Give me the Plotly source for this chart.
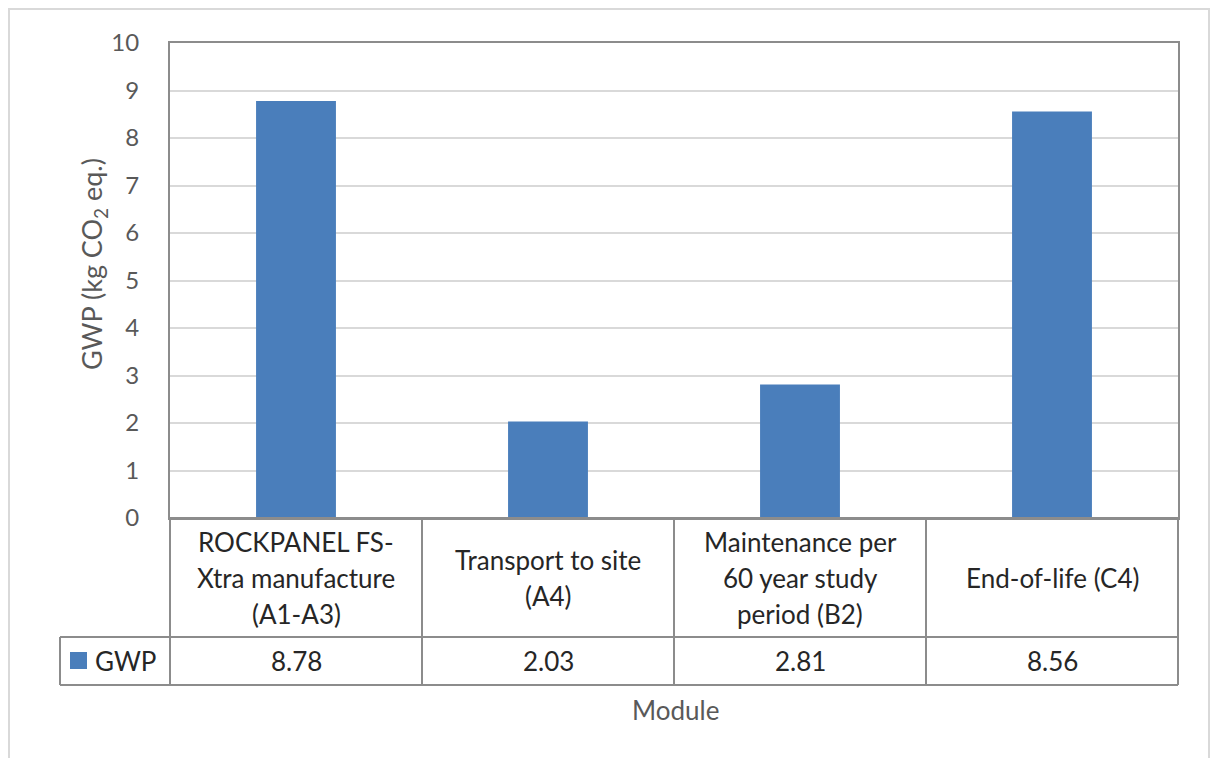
import plotly.graph_objects as go

categories = [
    "ROCKPANEL FS-\nXtra manufacture\n(A1-A3)",
    "Transport to site\n(A4)",
    "Maintenance per\n60 year study\nperiod (B2)",
    "End-of-life (C4)",
]
gwp_values = [8.78, 2.03, 2.81, 8.56]
value_labels = ["8.78", "2.03", "2.81", "8.56"]
series_name = "GWP"
y_ticks = [0, 1, 2, 3, 4, 5, 6, 7, 8, 9, 10]

W, H = 1211, 758
L, R, T, B = 170, 1178, 43, 518
BAR_COLOR = "#4a7ebb"
LINE = "#8c8c8c"
FONT = "Lato"
TXT = 26

def px(x):
    return (x - L) / (R - L)

def py(y):
    return (B - y) / (B - T)

x_idx = list(range(len(categories)))

fig = go.Figure(go.Bar(
    x=x_idx, y=gwp_values, name=series_name,
    marker=dict(color=BAR_COLOR, line=dict(width=0)),
    hoverinfo="x+y",
))

shapes = []
annotations = []

# outer chart border
shapes.append(dict(type="rect", xref="paper", yref="paper",
                   x0=px(9), x1=px(1209), y0=py(9), y1=py(770),
                   line=dict(color="#d9d9d9", width=2), fillcolor="rgba(0,0,0,0)", layer="below"))

col_w = (R - L) / len(categories)
row1_bottom = 637
row2_bottom = 685
# table horizontal lines
shapes.append(dict(type="line", xref="paper", yref="paper", x0=px(L), x1=px(R), y0=py(B), y1=py(B),
                   line=dict(color=LINE, width=2)))
shapes.append(dict(type="line", xref="paper", yref="paper", x0=px(60), x1=px(R), y0=py(row1_bottom), y1=py(row1_bottom),
                   line=dict(color=LINE, width=2)))
shapes.append(dict(type="line", xref="paper", yref="paper", x0=px(60), x1=px(R), y0=py(row2_bottom), y1=py(row2_bottom),
                   line=dict(color=LINE, width=2)))
# left edge of legend column
shapes.append(dict(type="line", xref="paper", yref="paper", x0=px(60), x1=px(60), y0=py(row1_bottom), y1=py(row2_bottom),
                   line=dict(color=LINE, width=2)))
# vertical column lines
for i in range(len(categories) + 1):
    xv = L + i * col_w
    shapes.append(dict(type="line", xref="paper", yref="paper", x0=px(xv), x1=px(xv), y0=py(B), y1=py(row2_bottom),
                       line=dict(color=LINE, width=2)))

# legend key in table
shapes.append(dict(type="rect", xref="paper", yref="paper", x0=px(70), x1=px(87), y0=py(652), y1=py(669),
                   fillcolor=BAR_COLOR, line=dict(width=0)))
annotations.append(dict(text=series_name, xref="paper", yref="paper", x=px(93), y=py(661),
                        xanchor="left", yanchor="middle", showarrow=False,
                        font=dict(family=FONT, size=TXT, color="#262626")))

# category labels and values
line_gap = 36
cat_center = 578
for i, (cat, val) in enumerate(zip(categories, value_labels)):
    cx = L + (i + 0.5) * col_w
    lines = cat.split("\n")
    n = len(lines)
    for j, ln in enumerate(lines):
        yy = cat_center + (j - (n - 1) / 2) * line_gap
        annotations.append(dict(text=ln, xref="paper", yref="paper", x=px(cx), y=py(yy),
                                xanchor="center", yanchor="middle", showarrow=False,
                                font=dict(family=FONT, size=TXT, color="#262626")))
    annotations.append(dict(text=val, xref="paper", yref="paper", x=px(cx), y=py(661),
                            xanchor="center", yanchor="middle", showarrow=False,
                            font=dict(family=FONT, size=TXT, color="#262626")))

# axis titles
annotations.append(dict(text="GWP (kg CO<sub>2</sub> eq.)", xref="paper", yref="paper",
                        x=px(93), y=py(264), textangle=-90, xanchor="center", yanchor="middle",
                        showarrow=False, font=dict(family=FONT, size=27, color="#595959")))
annotations.append(dict(text="Module", xref="paper", yref="paper",
                        x=px(675), y=py(710), xanchor="center", yanchor="middle",
                        showarrow=False, font=dict(family=FONT, size=TXT, color="#595959")))

fig.update_layout(
    width=W, height=H,
    margin=dict(l=L, r=W - R, t=T, b=H - B, pad=0),
    paper_bgcolor="white", plot_bgcolor="white",
    showlegend=False,
    bargap=0.683,
    shapes=shapes,
    annotations=annotations,
    font=dict(family=FONT),
    xaxis=dict(range=[-0.5, len(categories) - 0.5], showticklabels=False, showgrid=False,
               showline=True, mirror=True, linecolor=LINE, linewidth=2, zeroline=False,
               fixedrange=True),
    yaxis=dict(range=[0, 10], tickvals=y_ticks, ticktext=[str(t) for t in y_ticks],
               showgrid=True, gridcolor="#d9d9d9", gridwidth=2,
               showline=True, mirror=True, linecolor=LINE, linewidth=2, zeroline=False,
               ticks="", ticklabelstandoff=24,
               tickfont=dict(family=FONT, size=24, color="#595959"), fixedrange=True),
)

fig.write_html("out.html", config={"displayModeBar": False},
               post_script="document.body.style.margin='0px';document.body.style.overflow='hidden';")
